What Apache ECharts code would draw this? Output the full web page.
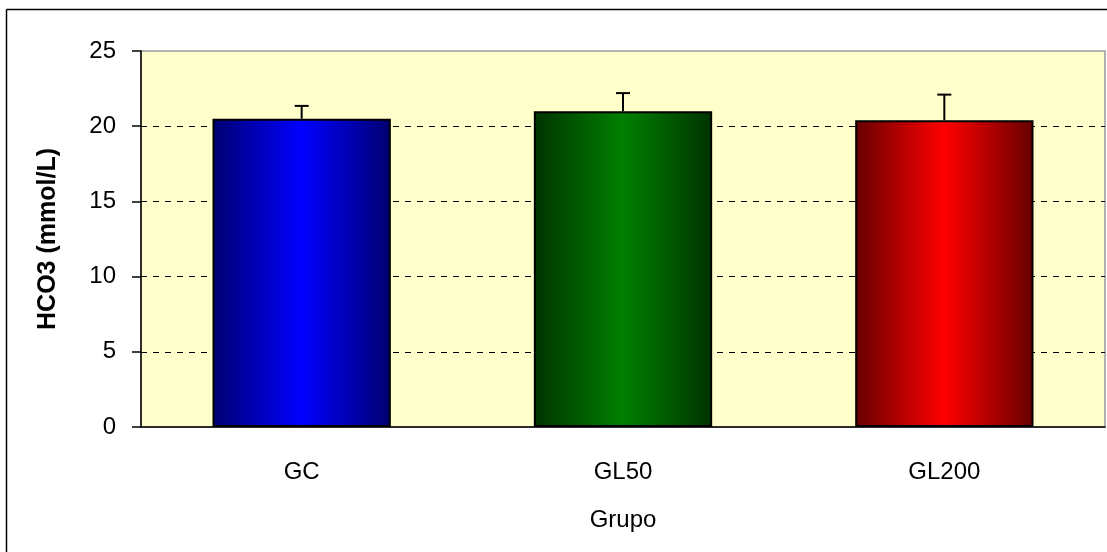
<!DOCTYPE html>
<html><head><meta charset="utf-8">
<script src="https://cdn.jsdelivr.net/npm/echarts@6/dist/echarts.min.js"></script>
<style>html,body{margin:0;padding:0;background:#fff}#c{width:1107px;height:552px}</style>
</head><body><div id="c"></div>
<script>
const categories = ['GC', 'GL50', 'GL200'];
const means = [20.5, 21.0, 20.4];
const errors = [0.85, 1.2, 1.7];
const yTicks = [0, 5, 10, 15, 20, 25];
const barColors = [
  ['#000070', '#0000FF'],
  ['#003300', '#008000'],
  ['#660000', '#FF0000']
];

function grad(c) {
  return new echarts.graphic.LinearGradient(0, 0, 1, 0, [
    {offset: 0, color: c[0]}, {offset: 0.5, color: c[1]}, {offset: 1, color: c[0]}
  ]);
}

const chart = echarts.init(document.getElementById('c'));
chart.setOption({
  animation: false,
  graphic: [
    {type: 'line', shape: {x1: 6.5, y1: 9.5, x2: 1107, y2: 9.5}, style: {stroke: '#000', lineWidth: 1.5}},
    {type: 'line', shape: {x1: 6.5, y1: 9.5, x2: 6.5, y2: 552}, style: {stroke: '#000', lineWidth: 1.5}}
  ],
  grid: {left: 141, top: 51, right: 2, bottom: 125, show: true, backgroundColor: '#FFFFCC', borderColor: '#999', borderWidth: 1.5},
  xAxis: {
    type: 'category', data: categories,
    name: 'Grupo', nameLocation: 'middle', nameGap: 81,
    nameTextStyle: {fontFamily: 'Liberation Sans', fontSize: 24, color: '#000'},
    axisLine: {lineStyle: {color: '#000', width: 1.5}},
    axisTick: {show: false},
    axisLabel: {fontFamily: 'Liberation Sans', fontSize: 24, color: '#000', margin: 33}
  },
  yAxis: {
    type: 'value', min: 0, max: 25, interval: 5,
    name: 'HCO3 (mmol/L)', nameLocation: 'middle', nameGap: 80,
    nameTextStyle: {fontFamily: 'Liberation Sans', fontSize: 25, fontWeight: 'bold', color: '#000'},
    axisLine: {show: true, lineStyle: {color: '#000', width: 1.5}},
    axisTick: {show: true, length: 9, lineStyle: {color: '#000', width: 1.5}},
    axisLabel: {fontFamily: 'Liberation Sans', fontSize: 24, color: '#000', margin: 25,
      formatter: v => yTicks.includes(v) ? String(v) : ''},
    splitLine: {show: true, lineStyle: {color: ['rgba(0,0,0,0)', '#000', '#000', '#000', '#000', 'rgba(0,0,0,0)'], type: [6, 6], width: 1}}
  },
  series: [
    {
      type: 'bar', barWidth: '55.5%',
      data: means.map((v, i) => ({value: v, itemStyle: {color: grad(barColors[i]), borderColor: '#000', borderWidth: 2}})),
      z: 2
    },
    {
      type: 'custom', z: 3,
      data: means.map((v, i) => [i, v, v + errors[i]]),
      renderItem: function (params, api) {
        const base = api.coord([api.value(0), api.value(1)]);
        const top = api.coord([api.value(0), api.value(2)]);
        const half = 7;
        return {
          type: 'group',
          children: [
            {type: 'line', shape: {x1: base[0], y1: base[1], x2: top[0], y2: top[1]}, style: {stroke: '#000', lineWidth: 2}},
            {type: 'line', shape: {x1: top[0] - half, y1: top[1], x2: top[0] + half, y2: top[1]}, style: {stroke: '#000', lineWidth: 2}}
          ]
        };
      }
    }
  ]
});
</script>
</body></html>
